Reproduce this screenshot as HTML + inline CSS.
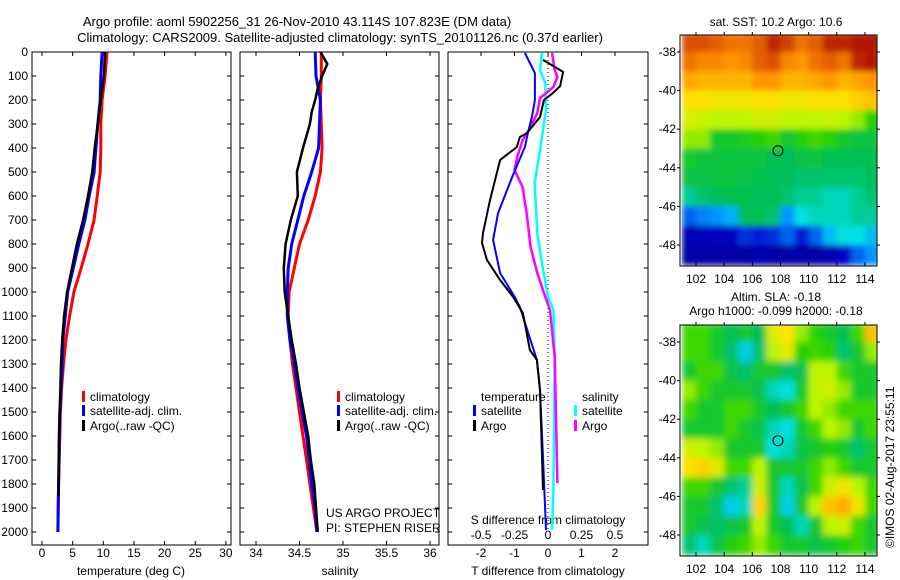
<!DOCTYPE html>
<html><head><meta charset="utf-8">
<style>
html,body{margin:0;padding:0;background:#fff}
svg{display:block;font-family:"Liberation Sans",sans-serif;font-size:12px}
</style></head>
<body>
<svg id="fig" width="900" height="580" viewBox="0 0 900 580">
<defs>
<filter id="blur4" x="0" y="0" width="1" height="1"><feGaussianBlur stdDeviation="3" edgeMode="duplicate"/></filter>
<filter id="blur6" x="0" y="0" width="1" height="1"><feGaussianBlur stdDeviation="3.5" edgeMode="duplicate"/></filter>
</defs>
<text x="297" y="26" text-anchor="middle" font-size="13">Argo profile: aoml 5902256_31 26-Nov-2010 43.114S 107.823E (DM data)</text>
<text x="340" y="42" text-anchor="middle" font-size="13">Climatology: CARS2009. Satellite-adjusted climatology: synTS_20101126.nc (0.37d earlier)</text>
<text x="776" y="26" text-anchor="middle">sat. SST: 10.2 Argo: 10.6</text>
<text x="776" y="301" text-anchor="middle">Altim. SLA: -0.18</text>
<text x="776" y="315" text-anchor="middle">Argo h1000: -0.099 h2000: -0.18</text>
<text transform="translate(894,548) rotate(-90)">©IMOS 02-Aug-2017 23:55:11</text>
<g id="g"></g>
</svg>
<script>
// ---- data ----
const depths=[0,100,200,300,400,500,600,700,800,900,1000,1100,1200,1300,1400,1500,1600,1700,1800,1900,2000];
const tempClim=[10.6,10.3,9.8,9.6,9.6,9.5,9.0,8.5,7.5,6.4,5.2,4.5,3.9,3.5,3.2,3.0,2.9,2.8,2.7,2.65,2.6];
const tempSat=[9.8,9.6,9.5,9.1,8.8,8.5,7.7,7.0,6.0,5.1,4.2,3.8,3.4,3.3,3.1,2.9,2.8,2.75,2.7,2.65,2.6];
const tempArgoDepths=[0,100,200,300,400,500,600,700,800,900,1000,1100,1200,1300,1400,1500,1600,1700,1850];
const tempArgo=[10.3,10.1,9.6,9.1,8.6,8.2,7.5,6.7,5.7,4.9,4.1,3.6,3.3,3.1,3.0,2.9,2.8,2.75,2.7];
const salClim=[34.75,34.75,34.74,34.75,34.76,34.74,34.68,34.6,34.5,34.44,34.38,34.37,34.39,34.42,34.46,34.5,34.54,34.58,34.62,34.66,34.7];
const salSat=[34.68,34.69,34.74,34.73,34.72,34.64,34.55,34.48,34.41,34.37,34.36,34.36,34.39,34.44,34.48,34.53,34.58,34.61,34.64,34.68,34.7];
const salArgoDepths=[0,50,100,150,200,250,300,400,500,600,700,800,900,1000,1100,1200,1300,1400,1500,1600,1700,1800,1900,2000];
const salArgo=[34.74,34.82,34.76,34.71,34.68,34.64,34.62,34.54,34.47,34.48,34.4,34.34,34.32,34.33,34.37,34.41,34.46,34.5,34.55,34.6,34.63,34.67,34.69,34.71];
const dTArgoDepths=[33,83,142,171,200,271,338,354,396,450,617,754,796,867,950,1021,1088,1242,1283,1408,1825];
const dTArgo=[-0.15,0.45,0.36,0.15,-0.12,-0.24,-0.63,-0.84,-0.93,-1.43,-1.73,-1.94,-1.97,-1.82,-1.43,-1.04,-0.75,-0.54,-0.33,-0.24,-0.15];
const dTSatDepths=[4,46,88,200,271,338,396,521,671,783,921,1021,1063,1283,1408,1688,1992];
const dTSat=[-0.69,-0.54,-0.39,-0.39,-0.48,-0.6,-0.69,-1.07,-1.49,-1.64,-1.43,-0.99,-0.84,-0.33,-0.24,-0.15,-0.06];
const dSArgoDepths=[4,75,104,146,192,254,313,367,438,492,563,671,813,921,1021,1075,1271,1796];
const dSArgo=[0.03,0.05,0.07,0.04,-0.06,-0.08,-0.13,-0.19,-0.23,-0.25,-0.19,-0.16,-0.13,-0.08,-0.02,0.015,0.05,0.07];
const dSSatDepths=[4,75,129,242,408,546,754,896,1021,1075,1271,1825,1992];
const dSSat=[-0.045,-0.06,-0.02,-0.015,-0.06,-0.1,-0.08,-0.04,0,0.04,0.05,0.04,0.03];
const depthTicks=[0,100,200,300,400,500,600,700,800,900,1000,1100,1200,1300,1400,1500,1600,1700,1800,1900,2000];
const tempTicks=[0,5,10,15,20,25,30];
const salTicks=[34,34.5,35,35.5,36];
const dTTicks=[-2,-1,0,1,2];
const dSTicks=[-0.5,-0.25,0,0.25,0.5];
const lonTicks=[102,104,106,108,110,112,114];
const latTicks=[-38,-40,-42,-44,-46,-48];
const argoLon=107.823, argoLat=-43.114;
const sstGrid=[
[.9,.9,.88,.85,.85,.88,.95,.92,.85,.88,.95,.95,.97,.97],
[.85,.82,.82,.8,.82,.88,.9,.82,.8,.85,.88,.85,.95,.97],
[.78,.76,.76,.76,.76,.8,.8,.76,.76,.78,.8,.76,.78,.8],
[.7,.7,.68,.68,.68,.7,.7,.68,.68,.7,.7,.7,.72,.74],
[.65,.63,.62,.62,.62,.64,.64,.62,.62,.62,.63,.62,.6,.55],
[.6,.6,.5,.5,.52,.55,.56,.5,.54,.56,.55,.5,.48,.48],
[.5,.48,.48,.48,.48,.48,.46,.45,.47,.48,.46,.46,.46,.46],
[.47,.47,.48,.48,.47,.46,.45,.45,.44,.44,.44,.44,.44,.45],
[.42,.44,.45,.46,.46,.45,.46,.44,.42,.42,.4,.4,.42,.44],
[.25,.28,.3,.33,.45,.46,.44,.3,.38,.4,.4,.4,.42,.42],
[.12,.12,.14,.14,.2,.18,.2,.25,.18,.25,.34,.38,.38,.34],
[.08,.08,.08,.08,.08,.1,.08,.08,.08,.08,.1,.15,.25,.3]];
const slaGrid=[
[.56,.56,.5,.46,.5,.46,.66,.7,.6,.55,.5,.46,.56,.75],
[.56,.56,.5,.44,.36,.44,.62,.66,.55,.56,.55,.44,.5,.6],
[.5,.56,.56,.47,.44,.5,.5,.44,.47,.62,.62,.56,.5,.5],
[.6,.56,.5,.5,.5,.47,.4,.38,.5,.62,.64,.6,.5,.5],
[.56,.5,.5,.56,.56,.5,.46,.5,.56,.62,.6,.56,.56,.56],
[.5,.5,.5,.56,.5,.47,.4,.38,.5,.56,.62,.6,.5,.56],
[.64,.62,.6,.5,.5,.5,.38,.4,.47,.5,.54,.5,.44,.5],
[.7,.72,.66,.56,.56,.62,.5,.5,.5,.56,.6,.56,.5,.5],
[.56,.56,.5,.44,.42,.64,.5,.4,.47,.56,.64,.68,.62,.56],
[.5,.5,.44,.36,.4,.72,.5,.36,.5,.62,.74,.77,.68,.56],
[.5,.47,.44,.47,.5,.62,.5,.46,.4,.5,.62,.64,.56,.5],
[.44,.4,.47,.54,.56,.6,.56,.5,.5,.47,.5,.54,.56,.5]];

// ---- helpers ----
const NS="http://www.w3.org/2000/svg", G=document.getElementById('g');
function mk(tag,attrs,parent){const e=document.createElementNS(NS,tag);for(const k in attrs)e.setAttribute(k,attrs[k]);(parent||G).appendChild(e);return e;}
const yD=d=>52+d*0.24;
function line(xs,ds,xf,color,w,name,dash){
  const pts=xs.map((v,i)=>xf(v).toFixed(1)+','+yD(ds[i]).toFixed(1)).join(' ');
  const p=mk('polyline',{points:pts,fill:'none',stroke:color,'stroke-width':w});
  if(dash)p.setAttribute('stroke-dasharray',dash);
  
  
  return p;
}
function txt(x,y,s,anchor,name){const t=mk('text',{x:x,y:y,'text-anchor':anchor||'start'});t.textContent=s;
  
  
  return t;}
function frame(x0,x1,name){const r=mk('rect',{x:x0,y:52,width:x1-x0,height:493,fill:'none',stroke:'#000','stroke-width':1});
  
  
  for(const d of depthTicks){mk('line',{x1:x0,x2:x0+4,y1:yD(d),y2:yD(d),stroke:'#000'});mk('line',{x1:x1-4,x2:x1,y1:yD(d),y2:yD(d),stroke:'#000'});}
}
function xticks(vals,xf,labelY,name,top){for(const v of vals){const x=xf(v);
  mk('line',{x1:x,x2:x,y1:545,y2:541,stroke:'#000'});if(top)mk('line',{x1:x,x2:x,y1:52,y2:56,stroke:'#000'});
  txt(x,labelY,String(v),'middle',name);}}
function legend(x,y,color,label,name){const b=mk('rect',{x:x,y:y-10,width:3,height:11,fill:color});
  
  
  txt(x+8,y,label,'start',name);}

// ---- scales ----
const xT=v=>42+v*6.13, xS=v=>256+(v-34)*87, xdT=v=>548+v*33.5, xdS=v=>548+v*133.9;

for(const d of depthTicks) txt(28,yD(d)+4,String(d),'end','depth-tick-label');

// panel 1
frame(32,231,'temperature-panel');
xticks(tempTicks,xT,557,'temperature-tick-label',true);
txt(131,575,'temperature (deg C)','middle','temperature-axis-title');
line(tempClim,depths,xT,'#f00',3,'temp-climatology-line');
line(tempSat,depths,xT,'#00f',3,'temp-satellite-line');
line(tempArgo,tempArgoDepths,xT,'#000',2.5,'temp-argo-line');
legend(82,401,'#f00','climatology','legend-climatology');
legend(82,415,'#00f','satellite-adj. clim.','legend-satellite');
legend(82,430,'#000','Argo(..raw -QC)','legend-argo');

// panel 2
frame(240,439,'salinity-panel');
xticks(salTicks,xS,557,'salinity-tick-label',true);
txt(340,575,'salinity','middle','salinity-axis-title');
line(salClim,depths,xS,'#f00',3,'sal-climatology-line');
line(salSat,depths,xS,'#00f',3,'sal-satellite-line');
line(salArgo,salArgoDepths,xS,'#000',2.5,'sal-argo-line');
legend(337,401,'#f00','climatology','legend-climatology-2');
legend(337,415,'#00f','satellite-adj. clim.','legend-satellite-2');
legend(337,430,'#000','Argo(..raw -QC)','legend-argo-2');
txt(326,517,'US ARGO PROJECT','start','project-label');
txt(326,532,'PI: STEPHEN RISER','start','pi-label');

// panel 3
frame(448,648,'difference-panel');
for(const v of dTTicks){const x=xdT(v);mk('line',{x1:x,x2:x,y1:52,y2:56,stroke:'#000'});txt(x,557,String(v),'middle','dT-tick-label');}
for(const v of dSTicks){txt(xdS(v),539,String(v),'middle','dS-tick-label');}
txt(548,524,'S difference from climatology','middle','dS-axis-title');
txt(548,575,'T difference from climatology','middle','dT-axis-title');
const z=mk('line',{x1:xdT(0),x2:xdT(0),y1:yD(0),y2:yD(2000),stroke:'#000','stroke-dasharray':'1,3'});


line(dSSat,dSSatDepths,xdS,'#0ff',2.5,'dS-satellite-line');
line(dSArgo,dSArgoDepths,xdS,'#f0f',2.5,'dS-argo-line');
line(dTSat,dTSatDepths,xdT,'#00f',2,'dT-satellite-line');
line(dTArgo,dTArgoDepths,xdT,'#000',2,'dT-argo-line');
txt(481,401,'temperature','start','legend-temperature-header');
legend(473,415,'#00f','satellite','legend-t-satellite');
legend(473,430,'#000','Argo','legend-t-argo');
txt(582,401,'salinity','start','legend-salinity-header');
legend(574,415,'#0ff','satellite','legend-s-satellite');
legend(574,430,'#f0f','Argo','legend-s-argo');

// ---- maps ----
const stops=[[0,[0,0,127]],[.15,[0,0,200]],[.3,[0,150,255]],[.38,[0,225,225]],[.45,[0,190,90]],[.55,[40,210,0]],[.62,[190,245,0]],[.7,[255,225,0]],[.8,[255,150,0]],[.9,[220,80,0]],[1,[160,0,0]]];
function cmap(v){for(let i=1;i<stops.length;i++){if(v<=stops[i][0]){const[a,ca]=stops[i-1],[b,cb]=stops[i];const t=(v-a)/(b-a);
  return 'rgb('+ca.map((c,k)=>Math.round(c+(cb[k]-c)*t)).join(',')+')';}}return 'rgb(160,0,0)';}
function map(top,grid,name,filt){
  const x0=680,x1=877,y0=top,y1=top+231;
  const lonX=v=>696+(v-102)*14.08, latY=v=>top+17+(-38-v)*19.3;
  const gEl=mk('g',{});
  
  
  const cp=mk('clipPath',{id:'cp'+top},gEl);mk('rect',{x:x0,y:y0,width:x1-x0,height:y1-y0},cp);
  const clipG=mk('g',{'clip-path':'url(#cp'+top+')'},gEl);
  const cells=mk('g',{filter:'url(#'+filt+')'},clipG);
  grid.forEach((row,r)=>row.forEach((v,c)=>{
    const cx=lonX(101+c),cy=latY(-37-r);
    const cell=mk('rect',{x:cx.toFixed(1),y:cy.toFixed(1),width:15.1,height:20.3,fill:cmap(v)},cells);
    
    
  }));
  mk('rect',{x:x0,y:y0,width:x1-x0,height:y1-y0,fill:'none',stroke:'#000'},gEl);
  for(const l of lonTicks){const x=lonX(l);mk('line',{x1:x,x2:x,y1:y1,y2:y1-4,stroke:'#000'},gEl);mk('line',{x1:x,x2:x,y1:y0,y2:y0-3,stroke:'#000'},gEl);txt(x,y1+17,String(l),'middle',name+'-lon-label');}
  for(const l of latTicks){const y=latY(l);mk('line',{x1:x0,x2:x0-3,y1:y,y2:y,stroke:'#000'},gEl);mk('line',{x1:x1,x2:x1+3,y1:y,y2:y,stroke:'#000'},gEl);txt(676,y+4,String(l),'end',name+'-lat-label');}
  const c=mk('circle',{cx:lonX(argoLon),cy:latY(argoLat),r:5,fill:'none',stroke:'#000'},gEl);
  
  
}
map(35,sstGrid,'sst-map','blur4');
map(325,slaGrid,'sla-map','blur6');
</script>
</body></html>
